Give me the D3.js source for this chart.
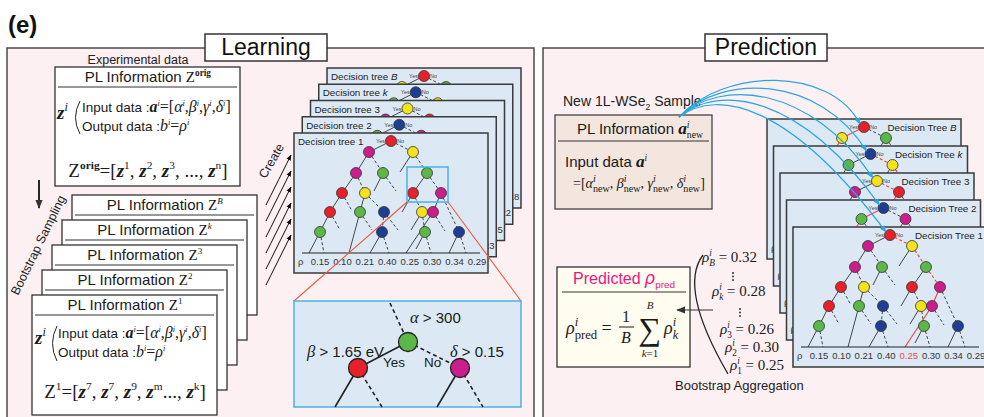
<!DOCTYPE html>
<html>
<head>
<meta charset="utf-8">
<script src="https://cdn.jsdelivr.net/npm/d3@7"></script>
<style>
  body { margin: 0; background: #fff; }
  svg { display: block; }
</style>
</head>
<body>
<svg id="fig" width="984" height="417"></svg>
<script>
// ---------------- data ----------------
// bootstrap sample sets / trees, listed back to front
const setNames = ["B", "k", "3", "2", "1"];
const rootColor = ["red", "navy", "yellow", "navy", "red"];
const leftColor = ["yellow", "green", "magenta", "green", "magenta"];
const rightColor = ["green", "yellow", "red", "magenta", "yellow"];
const firstBranch = ["yes", "no", "no", "yes", "no"];    // first split taken by the new sample
const secondBranch = ["yes", "no", "yes", "yes", "no"];  // second split taken by the new sample
// leaf values (rho) at the bottom of each tree
const leafRho = [
  [0.12, 0.20, 0.32, 0.26, 0.31, 0.24, 0.36, 0.18],
  [0.17, 0.28, 0.11, 0.33, 0.24, 0.27, 0.39, 0.22],
  [0.21, 0.14, 0.30, 0.26, 0.37, 0.19, 0.28, 0.35],
  [0.30, 0.16, 0.24, 0.38, 0.27, 0.20, 0.31, 0.23],
  [0.15, 0.10, 0.21, 0.40, 0.25, 0.30, 0.34, 0.29]
];
const predictedLeaf = 4;                       // leaf reached in tree 1
// per-tree predictions, top of the list first
const aggLabels = ["B", "k", "3", "2", "1"];
const aggRho = [0.32, 0.28, 0.26, 0.30, 0.25];
// split rules shown in the enlarged node
const ruleRoot = { sym: "α", text: " > 300" };
const ruleYes = { sym: "β", text: " > 1.65 eV" };
const ruleNo = { sym: "δ", text: " > 0.15" };

// ---------------- styles ----------------
const SANS = "'Liberation Sans', Arial, Helvetica, sans-serif";
const SERIF = "'Liberation Serif', 'Times New Roman', 'DejaVu Serif', serif";
const COL = { red: "#e8202a", green: "#5bb846", magenta: "#cc1d8b", yellow: "#f4e21c", navy: "#1d3e94" };
const PATH_RED = "#f0484a";
const fmt = d3.format(".2f");

const svg = d3.select("#fig");
svg.append("rect").attr("width", 984).attr("height", 417).attr("fill", "#fff");

const defs = svg.append("defs");
function marker(id, color, size) {
  defs.append("marker").attr("id", id).attr("viewBox", "0 0 10 10")
    .attr("refX", 9).attr("refY", 5).attr("markerWidth", size).attr("markerHeight", size)
    .attr("markerUnits", "userSpaceOnUse").attr("orient", "auto")
    .append("path").attr("d", "M0,1 L10,5 L0,9 Z").attr("fill", color);
}
marker("ah-black", "#111", 6);
marker("ah-blue", "#2aa6e0", 7);
marker("ah-dark", "#333", 9);

// rich text: plain runs, sup/sub and stacked scripts
function rich(parent, x, y, segs, o = {}) {
  const size = o.size || 14;
  const t = parent.append("text").attr("x", x).attr("y", y)
    .attr("font-size", size).attr("fill", o.fill || "#1a1a1a").attr("font-family", SANS);
  let shift = 0, pendingDx = 0;
  const add = (s, sh) => {
    const sp = t.append("tspan").text(s.t);
    sp.attr("font-family", s.r ? SERIF : SANS);
    if (s.i) sp.attr("font-style", "italic");
    if (s.b) sp.attr("font-weight", "bold");
    if (s.k) sp.attr("font-size", size * s.k);
    if (s.fill) sp.attr("fill", s.fill);
    if (sh !== shift) { sp.attr("dy", sh - shift); shift = sh; }
    if (pendingDx) { sp.attr("dx", pendingDx); pendingDx = 0; }
    return sp;
  };
  segs.forEach(s => {
    if (typeof s === "string") s = { t: s };
    if (s.sup !== undefined && s.sub !== undefined) {
      const a = add({ t: s.sup, r: true, i: true, k: s.kk || 0.6 }, -0.42 * size);
      const la = a.node().getComputedTextLength();
      const b = add({ t: s.sub, r: true, i: !!s.subI, k: s.kk || 0.6 }, 0.28 * size);
      b.attr("dx", -la);
      const lb = b.node().getComputedTextLength();
      if (la > lb) pendingDx = la - lb;
    } else if (s.sup !== undefined) {
      add({ t: s.sup, r: s.r !== false, i: s.i !== false, b: !!s.b, k: s.kk || 0.6 }, -(s.up || 0.42) * size);
    } else if (s.sub !== undefined) {
      add({ t: s.sub, r: !!s.r, i: !!s.i, b: !!s.b, k: s.kk || 0.6, fill: s.fill }, 0.28 * size);
    } else {
      add(s, 0);
    }
  });
  if (o.anchor) {
    const bb = t.node().getBBox();
    const dx = o.anchor === "middle" ? x - (bb.x + bb.width / 2) : x - (bb.x + bb.width);
    t.attr("transform", `translate(${dx},0)`);
  }
  return t;
}
const plain = (parent, x, y, str, o = {}) => parent.append("text").attr("x", x).attr("y", y)
  .attr("font-family", o.family || SANS).attr("font-size", o.size || 13)
  .attr("font-weight", o.weight || "normal").attr("font-style", o.style || "normal")
  .attr("text-anchor", o.anchor || "start").attr("fill", o.fill || "#1a1a1a").text(str);

// ---------------- figure label ----------------
plain(svg, 8, 33, "(e)", { size: 24, weight: "bold", fill: "#111" });

// ---------------- panels ----------------
function panel(x, w, title, tx) {
  svg.append("rect").attr("x", x).attr("y", 48).attr("width", w).attr("height", 400)
    .attr("fill", "#fcf0f3").attr("stroke", "#4a4a4a").attr("stroke-width", 1.5);
  svg.append("rect").attr("x", tx).attr("y", 34).attr("width", 122).attr("height", 27)
    .attr("fill", "#fff").attr("stroke", "#333").attr("stroke-width", 1.5);
  plain(svg, tx + 61, 55, title, { size: 23, anchor: "middle", fill: "#111" });
}
panel(7, 527, "Learning", 205);
panel(543, 460, "Prediction", 705);

const L = svg.append("g");

// ---------------- experimental data box ----------------
plain(L, 138, 64, "Experimental data", { size: 12.5, anchor: "middle", fill: "#222" });

function zBracket(g, x, y0, y1) {
  g.append("path").attr("d", `M${x},${y0} Q${x - 9},${(y0 + y1) / 2} ${x},${y1}`)
    .attr("fill", "none").attr("stroke", "#222").attr("stroke-width", 1);
}
const supI = { sup: "i", kk: 0.62 };
const MK = 1.18;
const inputSegs = [
  "Input data :", { t: "a", r: true, i: true, b: true, k: MK }, supI,
  { t: "=[", r: true, k: MK }, { t: "α", r: true, i: true, k: MK }, supI, { t: ",", r: true, k: MK },
  { t: "β", r: true, i: true, k: MK }, supI, { t: ",", r: true, k: MK },
  { t: "γ", r: true, i: true, k: MK }, supI, { t: ",", r: true, k: MK },
  { t: "δ", r: true, i: true, k: MK }, supI, { t: "]", r: true, k: MK }
];
const outputSegs = [
  "Output data :", { t: "b", r: true, i: true, k: MK }, supI, { t: "=", r: true, k: MK },
  { t: "ρ", r: true, i: true, k: MK }, supI
];
const zSegs = (head, elems) => {
  const out = [{ t: "Z", r: true }, head, { t: "=[", r: true }];
  elems.forEach(e => {
    out.push({ t: "z", r: true, i: true, b: true }, { sup: e.s, i: false, kk: 0.6 });
    out.push({ t: e.sep, r: true });
  });
  return out;
};

(function () {
  const g = L.append("g");
  g.append("rect").attr("x", 55).attr("y", 67).attr("width", 185).attr("height", 119)
    .attr("fill", "#fff").attr("stroke", "#333").attr("stroke-width", 1.3);
  g.append("line").attr("x1", 58).attr("x2", 237).attr("y1", 87).attr("y2", 87)
    .attr("stroke", "#333").attr("stroke-width", 1.2);
  rich(g, 148, 82, ["PL Information ", { t: "Z", r: true }, { sup: "orig", b: true, i: false, kk: 0.62 }],
    { size: 15, anchor: "middle" });
  rich(g, 57, 119, [{ t: "z", r: true, i: true, b: true }, { sup: "i", kk: 0.65 }], { size: 19 });
  zBracket(g, 80, 101, 134);
  rich(g, 82, 112, inputSegs, { size: 13.5 });
  rich(g, 82, 131, outputSegs, { size: 13.5 });
  rich(g, 148, 177, zSegs({ sup: "orig", b: true, i: false, kk: 0.6 }, [
    { s: "1", sep: ", " }, { s: "2", sep: ", " }, { s: "3", sep: ", ..., " }, { s: "n", sep: "]" }
  ]), { size: 19, anchor: "middle" });
})();

// bootstrap sampling arrow and label
L.append("line").attr("x1", 39).attr("x2", 39).attr("y1", 180).attr("y2", 208)
  .attr("stroke", "#111").attr("stroke-width", 1.8).attr("marker-end", "url(#ah-dark)");
plain(L, 0, 0, "Bootstrap  Sampling", { size: 12.5, anchor: "middle", fill: "#222" })
  .attr("transform", "translate(42,247) rotate(-64)");

// ---------------- bootstrap sample boxes ----------------
setNames.forEach((name, j) => {
  const x = 72 - 10 * j, y = 195 + 25 * j, w = 185, h = 120;
  const g = L.append("g");
  const letter = isNaN(+name);
  g.append("rect").attr("x", x).attr("y", y).attr("width", w).attr("height", h)
    .attr("fill", "#fff").attr("stroke", "#333").attr("stroke-width", 1.3);
  g.append("line").attr("x1", x + 3).attr("x2", x + w - 3).attr("y1", y + 20).attr("y2", y + 20)
    .attr("stroke", "#333").attr("stroke-width", 1.2);
  rich(g, x + 93, y + 15, ["PL Information ", { t: "Z", r: true }, { sup: name, i: letter, kk: 0.6 }],
    { size: 15, anchor: "middle" });
  rich(g, x + 3, y + 49, [{ t: "z", r: true, i: true, b: true }, { sup: "i", kk: 0.65 }], { size: 19 });
  zBracket(g, x + 25, y + 31, y + 66);
  rich(g, x + 26, y + 43, inputSegs, { size: 13.5 });
  rich(g, x + 26, y + 62, outputSegs, { size: 13.5 });
  rich(g, x + 93, y + 103, zSegs({ sup: name, i: letter, kk: 0.6 }, [
    { s: "7", sep: ", " }, { s: "7", sep: ", " }, { s: "9", sep: ", " }, { s: "m", sep: "..., " }, { s: "k", sep: "]" }
  ]), { size: 19, anchor: "middle" });
});

// "Create" arrows
plain(L, 0, 0, "Create", { size: 12.5, anchor: "middle", fill: "#222" })
  .attr("transform", "translate(275,163) rotate(-60)");
d3.range(6).forEach(i => {
  L.append("line").attr("x1", 266).attr("y1", 205 + 16 * i).attr("x2", 291).attr("y2", 155 + 16 * i)
    .attr("stroke", "#111").attr("stroke-width", 1).attr("marker-end", "url(#ah-black)");
});

// ---------------- decision tree template ----------------
const TREE_W = 194, TREE_H = 140, BASE_Y = 120;
const levelY = [8, 19, 40, 60, 79, 99];
const treeNodes = [
  { id: "R", x: 97, lv: 0, c: "red" },
  { id: "A", x: 75, lv: 1, c: "magenta", p: "R", no: false },
  { id: "B", x: 119, lv: 1, c: "yellow", p: "R", no: true },
  { id: "C", x: 62, lv: 2, c: "magenta", p: "A", no: false },
  { id: "D", x: 89, lv: 2, c: "green", p: "A", no: true },
  { id: "E", x: 133, lv: 2, c: "green", p: "B", no: true },
  { id: "F", x: 48, lv: 3, c: "red", p: "C", no: false },
  { id: "G", x: 71, lv: 3, c: "yellow", p: "C", no: true },
  { id: "H", x: 119, lv: 3, c: "red", p: "E", no: false },
  { id: "I", x: 147, lv: 3, c: "magenta", p: "E", no: true },
  { id: "J", x: 36, lv: 4, c: "red", p: "F", no: false },
  { id: "K", x: 66, lv: 4, c: "green", p: "G", no: false },
  { id: "Lv", x: 90, lv: 4, c: "navy", p: "G", no: true },
  { id: "M", x: 128, lv: 4, c: "yellow", p: "H", no: true },
  { id: "N", x: 139, lv: 4, c: "magenta", p: "I", no: false },
  { id: "O", x: 26, lv: 5, c: "green", p: "J", no: false },
  { id: "P", x: 88, lv: 5, c: "navy", p: "Lv", no: true },
  { id: "Q", x: 131, lv: 5, c: "green", p: "M", no: true },
  { id: "S", x: 165, lv: 5, c: "navy", p: "I", no: true }
];
// open branches and branches reaching the leaf row
const treeStubs = [
  { from: "B", x: 106, y: 39, no: false, key: "B-yes" }, { from: "D", x: 80, y: 58, no: false },
  { from: "D", x: 102, y: 58, no: true }, { from: "F", x: 58, y: 78, no: true },
  { from: "J", x: 46, y: 97, no: true }, { from: "K", x: 78, y: 97, no: true },
  { from: "Lv", x: 104, y: 97, no: true }, { from: "H", x: 108, y: 79, no: false },
  { from: "M", x: 117, y: 97, no: false }, { from: "N", x: 151, y: 98, no: true },
  { from: "Q", x: 122, y: 116, no: false },
  { from: "O", x: 15, y: BASE_Y, no: false }, { from: "O", x: 30, y: BASE_Y, no: true },
  { from: "K", x: 55, y: BASE_Y, no: false }, { from: "P", x: 76, y: BASE_Y, no: false },
  { from: "P", x: 95, y: BASE_Y, no: true }, { from: "N", x: 112, y: BASE_Y, no: false, key: "N-leaf" },
  { from: "Q", x: 137, y: BASE_Y, no: true }, { from: "S", x: 155, y: BASE_Y, no: false },
  { from: "S", x: 172, y: BASE_Y, no: true }
];
const tree1Path = new Set(["R-B", "B-E", "E-I", "I-N", "N-leaf"]);
const leafX = d3.scalePoint().domain(d3.range(8)).range([26, 183]);
const nodeY = d3.scaleOrdinal().domain(d3.range(6)).range(levelY);

function pathKeys(j) {
  if (j === setNames.length - 1) return tree1Path;
  const first = firstBranch[j] === "yes" ? "A" : "B";
  const second = first === "A"
    ? (secondBranch[j] === "yes" ? "A-C" : "A-D")
    : (secondBranch[j] === "yes" ? "B-yes" : "B-E");
  return new Set([`R-${first}`, second]);
}

function drawTree(parent, x0, y0, j, mode) {
  const name = setNames[j];
  const letter = isNaN(+name);
  const front = j === setNames.length - 1;
  const g = parent.append("g").attr("transform", `translate(${x0},${y0})`);
  g.append("rect").attr("width", TREE_W).attr("height", TREE_H)
    .attr("fill", "#dce9f5").attr("stroke", "#3a3a3a").attr("stroke-width", 1.5);
  const byId = {};
  treeNodes.forEach(n => {
    let c = n.c;
    if (n.id === "R") c = rootColor[j];
    if (n.id === "A") c = leftColor[j];
    if (n.id === "B") c = rightColor[j];
    byId[n.id] = { ...n, cx: n.x, cy: nodeY(n.lv), fillc: COL[c] };
  });
  const keys = pathKeys(j);
  const onPath = key => mode === "pred" && keys.has(key);
  const edges = [];
  treeNodes.forEach(n => {
    if (!n.p) return;
    const a = byId[n.p], b = byId[n.id];
    edges.push({ x1: a.cx, y1: a.cy, x2: b.cx, y2: b.cy, no: n.no, key: `${n.p}-${n.id}` });
  });
  treeStubs.forEach(s => {
    const a = byId[s.from];
    edges.push({ x1: a.cx, y1: a.cy, x2: s.x, y2: s.y, no: s.no, key: s.key || "" });
  });
  g.selectAll("line.edge").data(edges).join("line").attr("class", "edge")
    .attr("x1", d => d.x1).attr("y1", d => d.y1).attr("x2", d => d.x2).attr("y2", d => d.y2)
    .attr("stroke", d => onPath(d.key) ? PATH_RED : "#333")
    .attr("stroke-width", d => onPath(d.key) ? 1.2 : 0.9)
    .attr("stroke-dasharray", d => d.no ? "3,2.2" : null);
  g.selectAll("circle").data(Object.values(byId)).join("circle")
    .attr("cx", d => d.cx).attr("cy", d => d.cy).attr("r", 5.5)
    .attr("fill", d => d.fillc).attr("stroke", "#333").attr("stroke-width", 0.8);
  const r = byId.R;
  plain(g, r.cx - 6, r.cy + 2, "Yes", { size: 5.5, anchor: "end", fill: "#444" });
  plain(g, r.cx + 6, r.cy + 2, "No", { size: 5.5, fill: "#444" });
  // leaf row
  g.append("line").attr("x1", 8).attr("x2", 186).attr("y1", BASE_Y).attr("y2", BASE_Y)
    .attr("stroke", "#222").attr("stroke-width", 1.2);
  plain(g, 4, 132, "ρ", { size: 9.5, fill: "#333" });
  g.selectAll("text.leaf").data(leafRho[j]).join("text").attr("class", "leaf")
    .attr("x", (d, i) => leafX(i)).attr("y", 132).attr("text-anchor", "middle")
    .attr("font-family", SANS).attr("font-size", 9.5)
    .attr("fill", (d, i) => mode === "pred" && front && i === predictedLeaf ? PATH_RED : "#333")
    .text(d => fmt(d));
  // title
  if (mode === "learn") {
    rich(g, 4, 12, ["Decision tree ", { t: name, i: letter }], { size: 9.8, fill: "#222" });
  } else {
    rich(g, TREE_W - 4, 12, ["Decision Tree ", { t: name, i: letter }], { size: 9.8, fill: "#222", anchor: "end" });
  }
  return byId;
}

// learning stack
setNames.forEach((name, j) => drawTree(L, 327 - 8.25 * j, 68 + 16.25 * j, j, "learn"));

// enlarged view of one split
const T1 = { x: 294, y: 133 };
L.append("rect").attr("x", T1.x + 113).attr("y", T1.y + 34).attr("width", 41).attr("height", 35)
  .attr("fill", "none").attr("stroke", "#45b4e8").attr("stroke-width", 1.5);
L.append("line").attr("x1", T1.x + 113).attr("y1", T1.y + 69).attr("x2", 294).attr("y2", 301)
  .attr("stroke", "#ef5a3c").attr("stroke-width", 1.1);
L.append("line").attr("x1", T1.x + 154).attr("y1", T1.y + 69).attr("x2", 521).attr("y2", 301)
  .attr("stroke", "#ef5a3c").attr("stroke-width", 1.1);
(function () {
  const g = L.append("g");
  g.append("rect").attr("x", 294).attr("y", 301).attr("width", 227).attr("height", 106)
    .attr("fill", "#dce9f5").attr("stroke", "#45b4e8").attr("stroke-width", 1.5);
  const ln = (x1, y1, x2, y2, dash) => g.append("line").attr("x1", x1).attr("y1", y1)
    .attr("x2", x2).attr("y2", y2).attr("stroke", "#222").attr("stroke-width", 1.6)
    .attr("stroke-dasharray", dash ? "4,3" : null);
  const root = { x: 408, y: 342 }, yes = { x: 358, y: 368 }, no = { x: 460, y: 368 };
  ln(390, 303, root.x, root.y, true);
  ln(root.x, root.y, yes.x, yes.y, false);
  ln(root.x, root.y, no.x, no.y, true);
  ln(yes.x, yes.y, 335, 407, false);
  ln(yes.x, yes.y, 382, 407, true);
  ln(no.x, no.y, 437, 407, false);
  ln(no.x, no.y, 483, 407, true);
  [[root, COL.green], [yes, COL.red], [no, COL.magenta]].forEach(([p, c]) =>
    g.append("circle").attr("cx", p.x).attr("cy", p.y).attr("r", 9.5)
      .attr("fill", c).attr("stroke", "#222").attr("stroke-width", 1.3));
  rich(g, 410, 323, [{ t: ruleRoot.sym, r: true, i: true, k: 1.1 }, ruleRoot.text], { size: 15 });
  rich(g, 307, 357, [{ t: ruleYes.sym, r: true, i: true, k: 1.1 }, ruleYes.text], { size: 15 });
  rich(g, 450, 357, [{ t: ruleNo.sym, r: true, i: true, k: 1.1 }, ruleNo.text], { size: 15 });
  plain(g, 383, 367, "Yes", { size: 13.5 });
  plain(g, 424, 367, "No", { size: 13.5 });
})();

// ---------------- prediction ----------------
const P = svg.append("g");
rich(P, 563, 106, ["New 1L-WSe", { sub: "2", kk: 0.62 }, " Sample"], { size: 14, fill: "#222" });
(function () {
  const g = P.append("g");
  g.append("rect").attr("x", 555).attr("y", 115).attr("width", 157).attr("height", 94)
    .attr("fill", "#f2e6de").attr("stroke", "#444").attr("stroke-width", 1.3);
  g.append("line").attr("x1", 558).attr("x2", 709).attr("y1", 141).attr("y2", 141)
    .attr("stroke", "#333").attr("stroke-width", 1.2);
  rich(g, 640, 134, ["PL Information ", { t: "a", r: true, i: true, b: true, k: 1.15 },
    { sup: "i", sub: "new", kk: 0.65 }], { size: 15, anchor: "middle" });
  rich(g, 565, 167, ["Input data ", { t: "a", r: true, i: true, b: true, k: 1.15 }, { sup: "i", kk: 0.62 }], { size: 15 });
  const nw = { sup: "i", sub: "new", kk: 0.72 };
  rich(g, 573, 188, [
    { t: "=[", r: true }, { t: "α", r: true, i: true }, nw, { t: ",  ", r: true },
    { t: "β", r: true, i: true }, nw, { t: ",  ", r: true },
    { t: "γ", r: true, i: true }, nw, { t: ",  ", r: true },
    { t: "δ", r: true, i: true }, nw, { t: "]", r: true }
  ], { size: 14 });
})();

const predRoots = [];
setNames.forEach((name, j) => {
  const x0 = 767 + 6.5 * j, y0 = 119 + 27 * j;
  const nodes = drawTree(P, x0, y0, j, "pred");
  predRoots.push({ x: x0 + nodes.R.cx, y: y0 + nodes.R.cy });
});

// sample fed to every tree
const start = { x: 679, y: 117 };
predRoots.forEach((r, j) => {
  const f = j / (predRoots.length - 1);
  const c1 = { x: 724 - 6 * f, y: 68 + 20 * f };
  const c2 = { x: 830 - 40 * f, y: 66 + 38 * f };
  const end = { x: r.x - 4, y: r.y - 3 };
  P.append("path")
    .attr("d", `M${start.x},${start.y} C${c1.x},${c1.y} ${c2.x},${c2.y} ${end.x},${end.y}`)
    .attr("fill", "none").attr("stroke", "#2aa6e0").attr("stroke-width", 1.2)
    .attr("marker-end", "url(#ah-blue)");
});

// per-tree outputs
const aggPos = [[702, 262], [712, 296], [720, 334], [725, 352], [730, 370]];
aggLabels.forEach((lab, i) => {
  const letter = isNaN(+lab);
  rich(P, aggPos[i][0], aggPos[i][1], [
    { t: "ρ", r: true, i: true }, { sup: "i", sub: lab, subI: letter, kk: 0.62 },
    { t: " = " + fmt(aggRho[i]), r: true }
  ], { size: 15 });
});
[[733, 273], [740, 309]].forEach(([x, y]) => d3.range(3).forEach(k =>
  P.append("circle").attr("cx", x).attr("cy", y + 3.5 * k).attr("r", 0.9).attr("fill", "#222")));
P.append("path").attr("d", "M703,255 Q678,288 728,374").attr("fill", "none")
  .attr("stroke", "#222").attr("stroke-width", 1.3);
plain(P, 675, 390, "Bootstrap Aggregation", { size: 13, fill: "#222" });

// aggregated prediction box
(function () {
  const g = P.append("g");
  g.append("rect").attr("x", 557).attr("y", 267).attr("width", 133).attr("height", 100)
    .attr("fill", "#fffcf0").attr("stroke", "#333").attr("stroke-width", 1.3);
  g.append("line").attr("x1", 562).attr("x2", 686).attr("y1", 292).attr("y2", 292)
    .attr("stroke", "#333").attr("stroke-width", 1.2);
  rich(g, 624, 284, ["Predicted ", { t: "ρ", i: true, k: 1.1 }, { sub: "pred", i: false, kk: 0.62, fill: "#e8197d" }],
    { size: 16, fill: "#e8197d", anchor: "middle" });
  rich(g, 566, 334, [{ t: "ρ", r: true, i: true }, { sup: "i", sub: "pred", kk: 0.7 }, { t: " =", r: true }],
    { size: 18 });
  plain(g, 626, 322, "1", { family: SERIF, size: 16, anchor: "middle" });
  g.append("line").attr("x1", 619).attr("x2", 634).attr("y1", 327).attr("y2", 327)
    .attr("stroke", "#1a1a1a").attr("stroke-width", 1);
  plain(g, 626, 343, "B", { family: SERIF, size: 16, anchor: "middle", style: "italic" });
  plain(g, 650, 340, "∑", { family: SERIF, size: 32, anchor: "middle" });
  plain(g, 650, 309, "B", { family: SERIF, size: 11, anchor: "middle", style: "italic" });
  rich(g, 650, 357, [{ t: "k", r: true, i: true }, { t: "=1", r: true }], { size: 11, anchor: "middle" });
  rich(g, 664, 334, [{ t: "ρ", r: true, i: true }, { sup: "i", sub: "k", subI: true, kk: 0.68 }], { size: 18 });
})();
P.append("line").attr("x1", 713).attr("y1", 310).attr("x2", 677).attr("y2", 310)
  .attr("stroke", "#333").attr("stroke-width", 1.1).attr("marker-end", "url(#ah-dark)");
</script>
</body>
</html>
